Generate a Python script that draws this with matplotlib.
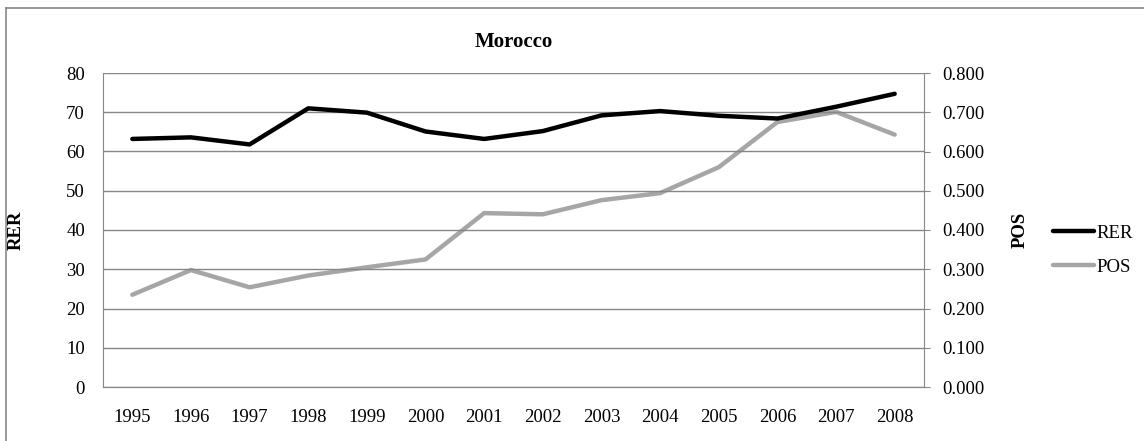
import matplotlib.pyplot as plt
from matplotlib.lines import Line2D

years = ['1995', '1996', '1997', '1998', '1999', '2000', '2001',
         '2002', '2003', '2004', '2005', '2006', '2007', '2008']
rer = [63.2, 63.6, 61.8, 71.0, 69.9, 65.1, 63.2,
       65.2, 69.2, 70.3, 69.1, 68.4, 71.4, 74.7]
pos = [0.235, 0.298, 0.254, 0.284, 0.305, 0.325, 0.443,
       0.440, 0.476, 0.494, 0.560, 0.675, 0.701, 0.643]

plt.rcParams['font.family'] = ['Liberation Serif', 'DejaVu Serif']
fs = 13.5
grid_c = '#878787'

fig = plt.figure(figsize=(11.44, 4.41), dpi=100)
ax = fig.add_axes([103/1144, 1-387/441, 821/1144, 314/441])
ax2 = ax.twinx()

x = list(range(len(years)))
l1, = ax.plot(x, rer, color='black', lw=3.2, solid_capstyle='round', label='RER')
l2, = ax2.plot(x, pos, color='#a6a6a6', lw=3.2, solid_capstyle='round', label='POS')
ax.set_zorder(ax2.get_zorder() + 1)
ax.patch.set_visible(False)

ax.set_xlim(-0.5, len(years) - 0.5)
ax.set_ylim(0, 80)
ax2.set_ylim(0, 0.8)
ax.set_yticks(range(0, 81, 10))
ax2.set_yticks([i / 10 for i in range(9)])
ax2.set_yticklabels(['%.3f' % (i / 10) for i in range(9)])
ax.set_xticks(x)
ax.set_xticklabels(years)

ax.yaxis.grid(True, color=grid_c, lw=1)
ax.set_axisbelow(True)

for a in (ax, ax2):
    for s in a.spines.values():
        s.set_color(grid_c)
    a.spines['top'].set_visible(False)
ax.spines['right'].set_visible(False)
ax2.spines['left'].set_visible(False)

ax.tick_params(axis='y', length=0, labelsize=fs, pad=13)
ax.tick_params(axis='x', length=0, labelsize=fs, pad=16)
ax2.tick_params(axis='y', length=4.5, color=grid_c, labelsize=fs, pad=8.5)

ax.set_ylabel('RER', fontsize=fs, fontweight='bold', labelpad=30)
ax2.set_ylabel('POS', fontsize=fs, fontweight='bold', rotation=90, labelpad=20)
ax.set_title('Morocco', fontsize=15, fontweight='bold', pad=19)

fig.legend(handles=[l1, l2], loc='center left', bbox_to_anchor=(1036/1144, 1-250/441),
           frameon=False, fontsize=fs, handlelength=2.2, handletextpad=0.1,
           labelspacing=0.9)

fig.add_artist(Line2D([6/1144, 6/1144], [0, 1-8/441], color=grid_c, lw=1.2))
fig.add_artist(Line2D([6/1144, 1], [1-8/441, 1-8/441], color=grid_c, lw=1.2))

fig.savefig('out.png', dpi=100)
